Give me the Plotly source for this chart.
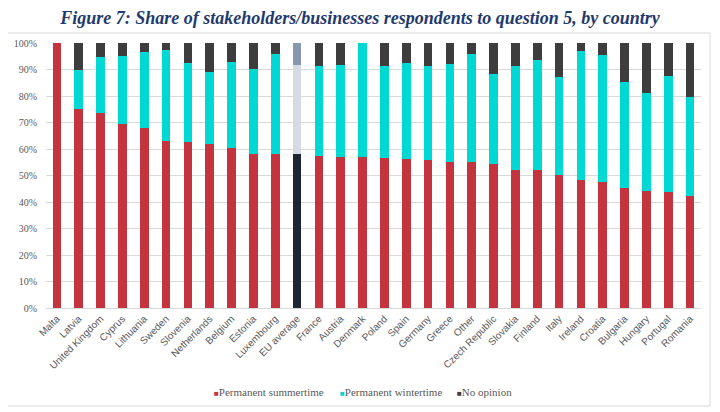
import plotly.graph_objects as go

countries = ["Malta", "Latvia", "United Kingdom", "Cyprus", "Lithuania", "Sweden", "Slovenia",
             "Netherlands", "Belgium", "Estonia", "Luxembourg", "EU average", "France", "Austria",
             "Denmark", "Poland", "Spain", "Germany", "Greece", "Other", "Czech Republic",
             "Slovakia", "Finland", "Italy", "Ireland", "Croatia", "Bulgaria", "Hungary",
             "Portugal", "Romania"]
summertime = [100, 75.0, 73.7, 69.4, 67.9, 63.0, 62.6, 62.0, 60.4, 58.3, 58.1, 58.1, 57.3, 57.1,
              57.1, 56.7, 56.1, 55.8, 55.1, 55.1, 54.5, 52.2, 52.2, 50.3, 48.3, 47.7, 45.2, 44.2,
              43.8, 42.4]
wintertime = [0, 15.0, 21.0, 25.7, 28.6, 34.4, 29.9, 27.0, 32.4, 32.0, 37.6, 33.7, 33.9, 34.5,
              42.9, 34.5, 36.4, 35.7, 37.1, 40.6, 33.7, 39.3, 41.3, 37.0, 48.7, 47.8, 40.1, 37.1,
              43.8, 37.4]
no_opinion = [0, 10.0, 5.3, 4.9, 3.5, 2.6, 7.5, 11.0, 7.2, 9.7, 4.3, 8.2, 8.8, 8.4,
              0, 8.8, 7.5, 8.5, 7.8, 4.3, 11.8, 8.5, 6.5, 12.7, 3.0, 4.5, 14.7, 18.7,
              12.4, 20.2]

series_names = ["Permanent summertime", "Permanent wintertime", "No opinion"]
base_colors = ["#C3343F", "#00D8D4", "#3D3D3D"]
eu_colors = ["#1E2633", "#D6DAE3", "#8797AF"]

fig = go.Figure()
for name, vals, col, eucol in zip(series_names, [summertime, wintertime, no_opinion], base_colors, eu_colors):
    colors = [eucol if c == "EU average" else col for c in countries]
    fig.add_trace(go.Bar(x=countries, y=[v / 100 for v in vals], name=name, showlegend=False,
                         marker=dict(color=colors, line=dict(width=0))))

# page body has an 8px default margin: lay out the figure 8px up/left of the target positions
OFF = 8
W, H = 720, 412
L, T = 46 - OFF, 43 - OFF
R = W - (701 - OFF)
B = H - (308 - OFF)
pw, ph = W - L - R, H - T - B

def px_x(x):
    return (x - OFF - L) / pw

def px_y(y):
    return (H - B - (y - OFF)) / ph

legend_x = [212, 338, 455]
annotations = []
for name, col, lx in zip(series_names, base_colors, legend_x):
    annotations.append(dict(
        xref="paper", yref="paper", x=px_x(lx), y=px_y(392),
        xanchor="left", yanchor="middle", showarrow=False,
        text=f"<span style='color:{col};font-size:8px'>■</span>{name}",
        font=dict(family="Liberation Serif", size=11, color="#595959")))

fig.update_layout(
    barmode="stack",
    bargap=0.6,
    width=W, height=H,
    margin=dict(l=L, r=R, t=T, b=B, autoexpand=False),
    paper_bgcolor="white", plot_bgcolor="white",
    title=dict(text="<b><i>Figure 7: Share of stakeholders/businesses respondents to question 5, by country</i></b>",
               x=(360 - OFF) / W, xanchor="center", y=1 - 3 / H, yanchor="top", pad=dict(t=0, b=0),
               font=dict(family="Liberation Serif", size=18, color="#1F3A6E")),
    showlegend=False,
    annotations=annotations,
    xaxis=dict(tickangle=-45, tickfont=dict(family="Liberation Sans", size=10, color="#595959"),
               showline=True, linecolor="#D9D9D9", ticks="", showgrid=False, automargin=False),
    yaxis=dict(range=[0, 1], dtick=0.1, tickformat=".0%", automargin=False,
               tickfont=dict(family="Liberation Serif", size=10, color="#595959"),
               ticklabelstandoff=8,
               gridcolor="#D9D9D9", gridwidth=1, zeroline=False, showline=False),
    shapes=[dict(type="rect", xref="paper", yref="paper",
                 x0=px_x(7), x1=px_x(710), y0=px_y(406), y1=px_y(33),
                 line=dict(color="#D9D9D9", width=1), fillcolor="rgba(0,0,0,0)", layer="below")],
)

fig.write_html("out.html")
